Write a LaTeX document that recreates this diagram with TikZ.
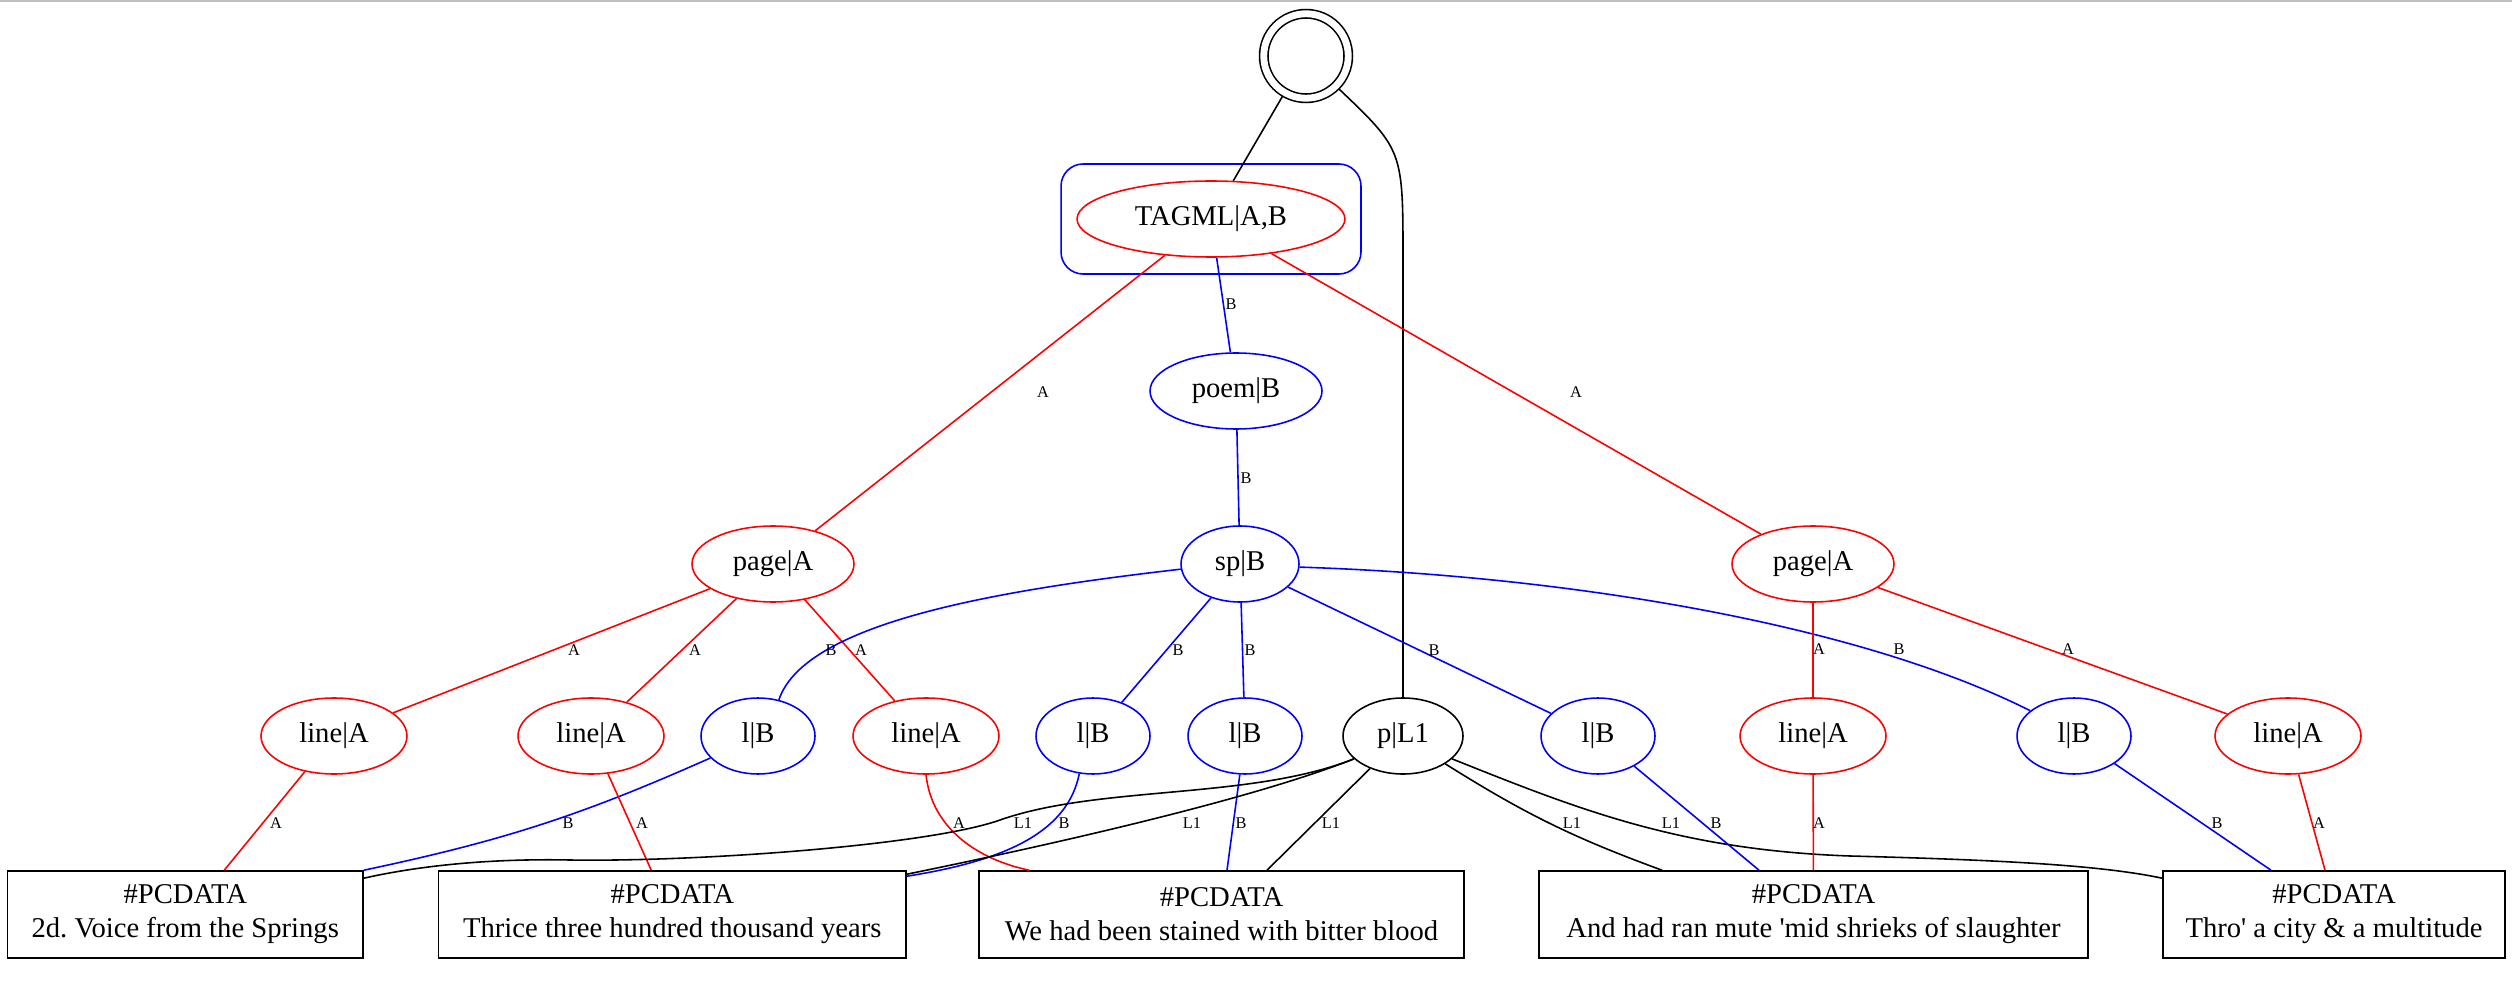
\documentclass[tikz,border=0pt]{standalone}
\usepackage{fontspec}
\setmainfont{Liberation Serif}[Ligatures=TeXOff]
\usetikzlibrary{shapes.geometric}
\frenchspacing

\begin{document}
\begin{tikzpicture}[x=0.02cm, y=-0.02cm, line width=0.9pt,
    every node/.style={font=\fontsize{16.3}{19.3}\selectfont, inner sep=0pt},
    el/.style={ellipse, draw, minimum height=1.52cm},
    redel/.style={el, red, text=black},
    blueel/.style={el, blue, text=black},
    pcbox/.style={draw, rectangle, minimum height=1.74cm, align=center},
    lbl/.style={font=\fontsize{9.3}{11}\selectfont, text=black},
    aedge/.style={red},
    bedge/.style={blue}]
    \useasboundingbox (0,0) rectangle (2512,986);
    \draw [gray!50] (0,1) -- (2512,1);

    % top of the graph
    \node [circle, draw, double, double distance=3.9pt, minimum size=1.69cm, outer sep=0.085cm] (root) at (1306,56) {};
    \node [draw=blue, rounded corners=0.44cm, minimum width=6cm, minimum height=2.2cm] (tagbox) at (1211,219) {};
    \node [redel, minimum width=5.36cm] (tagml) at (1211,219) {TAGML|A,B};
    \node [blueel, minimum width=3.44cm] (poem) at (1236,391) {poem|B};
    \node [blueel, minimum width=2.36cm] (sp) at (1240,564) {sp|B};
    \node [redel, minimum width=3.24cm] (pageL) at (773,564) {page|A};
    \node [redel, minimum width=3.24cm] (pageR) at (1813,564) {page|A};

    % line and l nodes
    \node [redel, minimum width=2.92cm] (lineA1) at (334,736) {line|A};
    \node [redel, minimum width=2.92cm] (lineA2) at (591,736) {line|A};
    \node [blueel, minimum width=2.28cm] (lB1) at (758,736) {l|B};
    \node [redel, minimum width=2.92cm] (lineA3) at (926,736) {line|A};
    \node [blueel, minimum width=2.28cm] (lB2) at (1093,736) {l|B};
    \node [blueel, minimum width=2.28cm] (lB3) at (1245,736) {l|B};
    \node [el, minimum width=2.4cm] (pL1) at (1403,736) {p|L1};
    \node [blueel, minimum width=2.28cm] (lB4) at (1598,736) {l|B};
    \node [redel, minimum width=2.92cm] (lineA4) at (1813,736) {line|A};
    \node [blueel, minimum width=2.28cm] (lB5) at (2074,736) {l|B};
    \node [redel, minimum width=2.92cm] (lineA5) at (2288,736) {line|A};

    % text boxes
    \node [pcbox, minimum width=7.11cm] (box1) at (185.25,914.5) {\#PCDATA\\2d. Voice from the Springs};
    \node [pcbox, minimum width=9.35cm] (box2) at (672.25,914.5) {\#PCDATA\\Thrice three hundred thousand years};
    \node [pcbox, minimum width=9.7cm] (box3) at (1221.5,914.5) {\#PCDATA\\We had been stained with bitter blood};
    \node [pcbox, minimum width=10.98cm] (box4) at (1813.5,914.5) {\#PCDATA\\And had ran mute 'mid shrieks of slaughter};
    \node [pcbox, minimum width=6.84cm] (box5) at (2334,914.5) {\#PCDATA\\Thro' a city \& a multitude};

    % upper edges
    \draw (root) -- (tagml);
    \draw (root.-45) .. controls (1403,150) .. (pL1.north |- 0,260) -- (pL1);
    \draw [aedge] (tagml) -- (pageL) node [lbl] at (1043,392) {A};
    \draw [bedge] (tagml) -- (poem) node [lbl] at (1231,304) {B};
    \draw [aedge] (tagml) -- (pageR) node [lbl] at (1576,392) {A};
    \draw [bedge] (poem) -- (sp) node [lbl] at (1246,478) {B};

    % middle edges
    \draw [aedge] (pageL) -- (lineA1) node [lbl] at (574,650) {A};
    \draw [aedge] (pageL) -- (lineA2) node [lbl] at (695,650) {A};
    \draw [aedge] (pageL) -- (lineA3) node [lbl] at (861,650) {A};
    \draw [bedge] (sp.185) .. controls (1000,590) and (805,622) .. (lB1.60) node [lbl] at (831,650) {B};
    \draw [bedge] (sp) -- (lB2) node [lbl] at (1178,650) {B};
    \draw [bedge] (sp) -- (lB3) node [lbl] at (1250,650) {B};
    \draw [bedge] (sp) -- (lB4) node [lbl] at (1434,650) {B};
    \draw [bedge] (sp.-3) .. controls (1550,575) and (1850,620) .. (lB5.150) node [lbl] at (1899,649) {B};
    \draw [aedge] (pageR) -- (lineA4) node [lbl] at (1819,649) {A};
    \draw [aedge] (pageR) -- (lineA5) node [lbl] at (2068,649) {A};

    % lower edges
    \draw [aedge] (lineA1) -- ([xshift=0.78cm]box1.north) node [lbl] at (276,823) {A};
    \draw [bedge] (lB1) to [bend left=6] (box1.north east) node [lbl] at (568,823) {B};
    \draw [aedge] (lineA2) -- ([xshift=-0.42cm]box2.north) node [lbl] at (642,823) {A};
    \draw [aedge] (lineA3.south) .. controls (932,830) and (980,860) .. ([xshift=1.02cm]box3.north west) node [lbl] at (959,823) {A};
    \draw [bedge] (lB2.-110) .. controls (1068,830) and (1010,860) .. ([yshift=-0.12cm]box2.north east) node [lbl] at (1064,823) {B};
    \draw [bedge] (lB3) -- ([xshift=0.11cm]box3.north) node [lbl] at (1241,823) {B};
    \draw (pL1.205) .. controls (1250,800) and (1100,785) .. (1000,820) .. controls (930,845) and (700,862) .. (570,860) .. controls (470,858) and (400,870) .. ([yshift=-0.16cm]box1.north east) node [lbl] at (1023,823) {L1};
    \draw (pL1.205) .. controls (1250,800) and (1050,845) .. ([yshift=-0.08cm]box2.north east) node [lbl] at (1192,823) {L1};
    \draw (pL1) -- ([xshift=0.91cm]box3.north) node [lbl] at (1331,823) {L1};
    \draw (pL1) to [bend right=6] ([xshift=-3.03cm]box4.north) node [lbl] at (1572,823) {L1};
    \draw (pL1.-25) .. controls (1580,810) and (1680,850) .. (1850,856) .. controls (2000,860) and (2100,865) .. ([yshift=-0.16cm]box5.north west) node [lbl] at (1671,823) {L1};
    \draw [bedge] (lB4) -- ([xshift=-1.09cm]box4.north) node [lbl] at (1716,823) {B};
    \draw [aedge] (lineA4) -- (box4) node [lbl] at (1819,823) {A};
    \draw [bedge] (lB5) -- ([xshift=-1.26cm]box5.north) node [lbl] at (2217,823) {B};
    \draw [aedge] (lineA5) -- ([xshift=-0.18cm]box5.north) node [lbl] at (2319,823) {A};
\end{tikzpicture}
\end{document}
